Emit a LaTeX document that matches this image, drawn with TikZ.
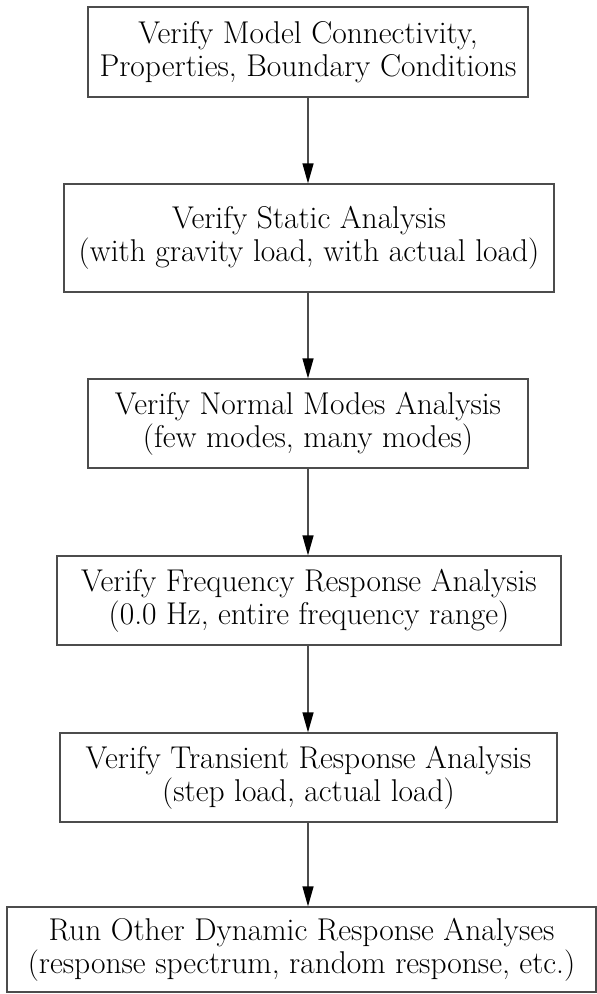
\documentclass[tikz,border=0pt]{standalone}
\usetikzlibrary{arrows.meta}
\begin{document}
\begin{tikzpicture}[x=1pt,y=-1pt,
  box/.style={draw=black!70, line width=1.3pt, align=center, inner sep=0pt,
    font=\fontsize{31.5}{33}\selectfont},
  arr/.style={-{Triangle[length=20pt,width=11pt,fill=black,color=black]}, draw=black!70, line width=1.3pt}]
\useasboundingbox (0,0) rectangle (597,994);
\node[box, minimum width=440pt, minimum height=90pt] (b1) at (308,52)
  {Verify Model Connectivity,\\Properties, Boundary Conditions};
\node[box, minimum width=490pt, minimum height=108pt] (b2) at (309,238)
  {Verify Static Analysis\\(with gravity load, with actual load)};
\node[box, minimum width=440pt, minimum height=89pt] (b3) at (308,423.5)
  {Verify Normal Modes Analysis\\(few modes, many modes)};
\node[box, minimum width=504pt, minimum height=89pt] (b4) at (309,600.5)
  {Verify Frequency Response Analysis\\(0.0 Hz, entire frequency range)};
\node[box, minimum width=497pt, minimum height=89pt] (b5) at (308.5,777.5)
  {Verify Transient Response Analysis\\(step load, actual load)};
\node[box, minimum width=589pt, minimum height=85pt] (b6) at (301.5,949.5)
  {Run Other Dynamic Response Analyses\\(response spectrum, random response, etc.)};
\draw[arr] (b1.south) -- (b1.south |- b2.north);
\draw[arr] (b1.south |- b2.south) -- (b1.south |- b3.north);
\draw[arr] (b1.south |- b3.south) -- (b1.south |- b4.north);
\draw[arr] (b1.south |- b4.south) -- (b1.south |- b5.north);
\draw[arr] (b1.south |- b5.south) -- (b1.south |- b6.north);
\end{tikzpicture}
\end{document}
